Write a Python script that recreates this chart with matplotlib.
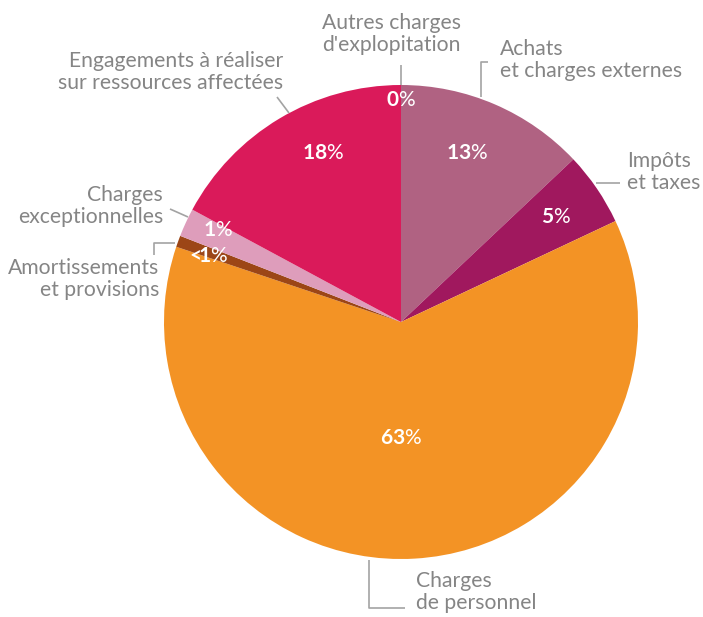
import matplotlib.pyplot as plt

plt.rcParams["mathtext.fontset"] = "custom"
plt.rcParams["mathtext.bf"] = "Lato:bold"
plt.rcParams["mathtext.rm"] = "Lato"

# slices, clockwise from 12 o'clock
categories = [
    "Autres charges\nd'explopitation",
    "Achats\net charges externes",
    "Impôts\net taxes",
    "Charges\nde personnel",
    "Amortissements\net provisions",
    "Charges\nexceptionnelles",
    "Engagements à réaliser\nsur ressources affectées",
]
shares = [0.0, 12.96, 5.04, 62.14, 0.78, 1.94, 17.14]
pct_labels = ["0", "13", "5", "63", "<1", "1", "18"]
colors = ["#b06282", "#b06282", "#a0185e", "#f39325", "#9c4616", "#de9dbb", "#da1a5a"]

W, H = 703, 617
CX, CY, R = 401, 322, 237

# text placement in pixels (x, y, ha)
label_pos = [
    (391, 34, "center"),
    (500, 60, "left"),
    (627, 172, "left"),
    (416, 592, "left"),
    (159, 279, "right"),
    (163, 206, "right"),
    (283, 72, "right"),
]
# centre of each percentage label
pct_pos = [(401, 100), (467, 153), (556, 217), (401, 438), (207, 256), (218, 230), (323, 153)]

# leader lines in pixels
leaders = [
    [(401, 65), (401, 85)],
    [(488, 62), (481, 62), (481, 97)],
    [(596, 183), (620, 183)],
    [(369, 560), (369, 608), (405, 608)],
    [(154, 255), (154, 243), (175, 243)],
    [(170, 209), (188, 217)],
    [(277, 97), (289, 113)],
]

text_gray = "#858585"
line_gray = "#a3a3a3"


def fy(y):
    return H - y


fig = plt.figure(figsize=(W / 100, H / 100), dpi=100)
ax = fig.add_axes([0, 0, 1, 1])

ax.pie(shares, colors=colors, startangle=90, counterclock=False,
       center=(CX, fy(CY)), radius=R, wedgeprops=dict(linewidth=0))
ax.set_xlim(0, W)
ax.set_ylim(0, H)
ax.set_aspect("equal")
ax.axis("off")

for label, (x, y, ha) in zip(categories, label_pos):
    ax.text(x, fy(y), label, ha=ha, va="center", fontsize=15.2, family="Lato",
            fontweight="normal", color=text_gray, linespacing=1.15, multialignment=ha)

for pts in leaders:
    xs = [p[0] for p in pts]
    ys = [fy(p[1]) for p in pts]
    ax.plot(xs, ys, color=line_gray, lw=1.2, solid_capstyle="butt")

for num, (x, y) in zip(pct_labels, pct_pos):
    # mathtext puts relation spacing after "<", pull the digit back
    num_tex = num.replace("<", r"<\!\!")
    txt = r"$\mathbf{" + num_tex + r"}$%"
    ax.text(x, fy(y), txt, ha="center", va="center", fontsize=15, family="Lato",
            color="white")

fig.savefig("out.png", dpi=100)
